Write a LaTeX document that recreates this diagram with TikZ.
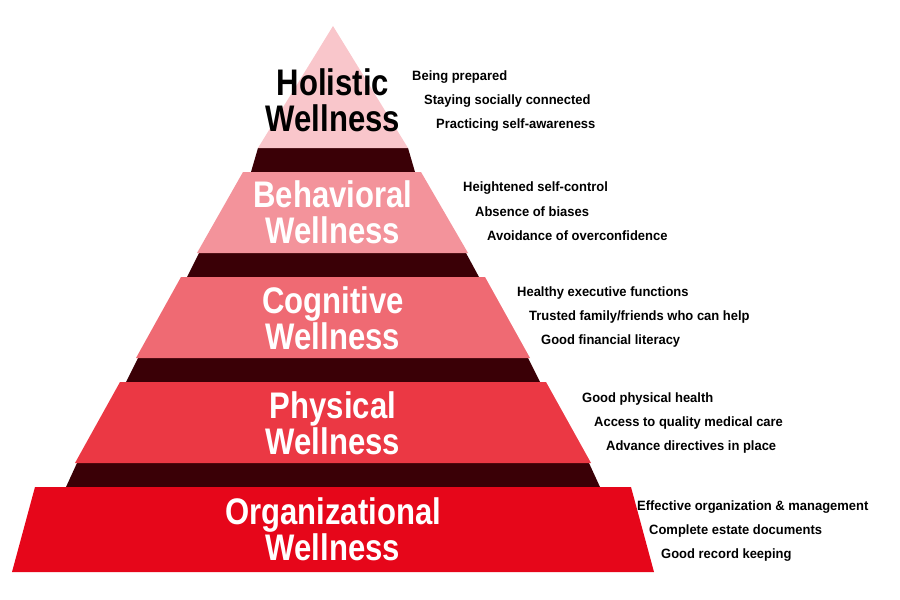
\documentclass[tikz,border=0pt]{standalone}
\usepackage{fontspec}
\setmainfont{Liberation Sans}
\newfontfamily\condfont[FakeStretch=0.84]{Liberation Sans Bold}
\newfontfamily\notefont[FakeStretch=0.96]{Liberation Sans Bold}
\usetikzlibrary{calc}
\definecolor{tierA}{HTML}{F9C6CB}
\definecolor{tierB}{HTML}{F3939B}
\definecolor{tierC}{HTML}{EF6A73}
\definecolor{tierD}{HTML}{EB3844}
\definecolor{tierE}{HTML}{E6061A}
\definecolor{gapdark}{HTML}{3A0006}
\tikzset{
  title/.style={font=\condfont\fontsize{37}{36}\selectfont, text=white, align=center, inner sep=0pt},
  point/.style={font=\notefont\fontsize{13.5}{16}\selectfont, anchor=west, inner sep=0pt}
}
\begin{document}
\begin{tikzpicture}[x=1pt,y=-1pt]
\useasboundingbox (0,0) rectangle (900,600);
\coordinate (apex) at (333,26);
% dark gaps
\fill[gapdark] (258,148) -- (408,148) -- (415,172) -- (251,172) -- cycle;
\fill[gapdark] (199,253) -- (466,253) -- (479,277) -- (187,277) -- cycle;
\fill[gapdark] (138,358) -- (528,358) -- (540,382) -- (126,382) -- cycle;
\fill[gapdark] (77,463) -- (589,463) -- (600,487) -- (66,487) -- cycle;
% tiers
\fill[tierA] (apex) -- (408,148) -- (258,148) -- cycle;
\fill[tierB] (243,172) -- (421,172) -- (468,253) -- (197,253) -- cycle;
\fill[tierC] (181,277) -- (485,277) -- (530,358) -- (136,358) -- cycle;
\fill[tierD] (120,382) -- (546,382) -- (591,463) -- (75,463) -- cycle;
\fill[tierE] (35,487) -- (631,487) -- (654,572) -- (12,572) -- cycle;
% titles
\node[title, text=black] (holistic) at (333,100) {Holistic\\Wellness};
\node[title] (behavioral) at (333,212) {Behavioral\\Wellness};
\node[title] (cognitive) at (333,318) {Cognitive\\Wellness};
\node[title] (physical) at (333,423) {Physical\\Wellness};
\node[title] (organizational) at (333,529) {Organizational\\Wellness};
% side notes
\node[point] (a1) at (412,77) {Being prepared};
\node[point] (a2) at (424,101) {Staying socially connected};
\node[point] (a3) at (436,125) {Practicing self-awareness};
\node[point] (b1) at (463,188) {Heightened self-control};
\node[point] (b2) at (475,212) {Absence of biases};
\node[point] (b3) at (487,236) {Avoidance of overconfidence};
\node[point] (c1) at (517,293) {Healthy executive functions};
\node[point] (c2) at (529,317) {Trusted family/friends who can help};
\node[point] (c3) at (541,341) {Good financial literacy};
\node[point] (d1) at (582,399) {Good physical health};
\node[point] (d2) at (594,423) {Access to quality medical care};
\node[point] (d3) at (606,447) {Advance directives in place};
\node[point] (e1) at (637,507) {Effective organization \& management};
\node[point] (e2) at (649,531) {Complete estate documents};
\node[point] (e3) at (661,555) {Good record keeping};
\end{tikzpicture}
\end{document}
